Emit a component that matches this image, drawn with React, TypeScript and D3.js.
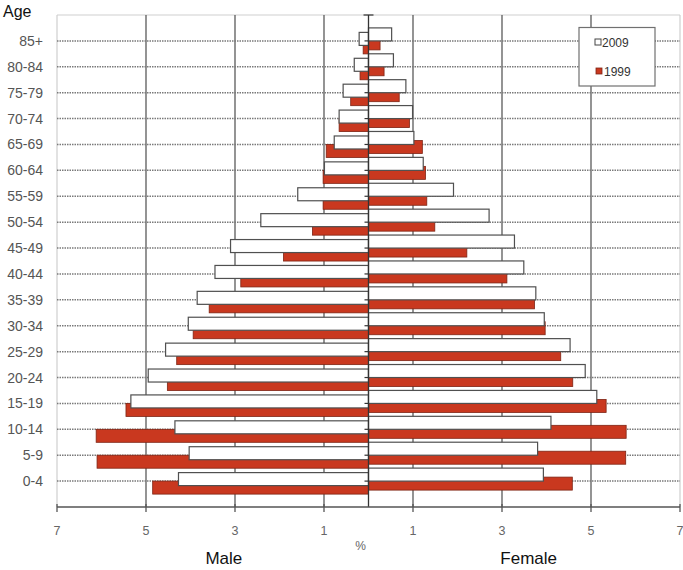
import React from "react";
import * as d3 from "d3";

const categories = ["85+","80-84","75-79","70-74","65-69","60-64","55-59","50-54","45-49","40-44","35-39","30-34","25-29","20-24","15-19","10-14","5-9","0-4"];
const male2009 = [0.21,0.32,0.57,0.66,0.77,0.99,1.59,2.42,3.10,3.45,3.85,4.05,4.56,4.95,5.34,4.35,4.03,4.27];
const male1999 = [0.12,0.19,0.40,0.66,0.95,1.02,1.02,1.26,1.91,2.87,3.58,3.94,4.31,4.52,5.45,6.12,6.10,4.85];
const female2009 = [0.52,0.56,0.84,0.99,1.02,1.23,1.91,2.71,3.28,3.49,3.76,3.95,4.53,4.87,5.13,4.10,3.80,3.93];
const female1999 = [0.26,0.35,0.69,0.92,1.21,1.28,1.31,1.49,2.21,3.11,3.73,3.97,4.32,4.59,5.34,5.79,5.78,4.58];
const xTicks = [-7,-5,-3,-1,1,3,5,7];
const gridTicks = [-5,-3,-1,1,3,5];
const seriesNames = ["2009","1999"];

const W = 683, H = 570;
const left = 57, right = 680, top = 15, bottom = 507;
const RED = "#c9381f";
const RED_STROKE = "#7e2414";

export default function App() {
  const x = d3.scaleLinear().domain([-7, 7]).range([left, right]);
  const y = d3.scalePoint<string>().domain(categories).range([top, bottom]).padding(1);
  const x0 = x(0);
  const bh = 13;

  const bar = (v: number, side: number) => {
    const xv = x(side * v);
    return { x: Math.min(xv, x0), w: Math.abs(xv - x0) };
  };

  return (
    <svg width={W} height={H} style={{ position: "absolute", left: 0, top: 0, background: "#fff" }}
      fontFamily="'Liberation Sans', Arial, sans-serif">
      {/* frame */}
      <line x1={left} x2={right} y1={top} y2={top} stroke="#cfcfcf" strokeWidth={1.2} />
      <line x1={left} x2={left} y1={top} y2={bottom} stroke="#cfcfcf" strokeWidth={1.2} />
      <line x1={right} x2={right} y1={top} y2={bottom} stroke="#cfcfcf" strokeWidth={1.2} />
      {/* vertical grid */}
      {gridTicks.map(t => (
        <line key={"g" + t} x1={x(t)} x2={x(t)} y1={top} y2={bottom} stroke="#5a5a5a" strokeWidth={1.3} />
      ))}
      {/* horizontal dotted lines */}
      {categories.map(c => (
        <line key={"h" + c} x1={left} x2={right} y1={y(c)!} y2={y(c)!} stroke="#7a7a7a" strokeWidth={1.5} strokeDasharray="1.5,1" />
      ))}
      {/* bars: 1999 first, 2009 on top */}
      {categories.map((c, i) => {
        const cy = y(c)!;
        const mr = bar(male1999[i], -1);
        const fr = bar(female1999[i], 1);
        return (
          <g key={"r" + c}>
            <rect x={mr.x} y={cy} width={mr.w} height={bh} fill={RED} stroke={RED_STROKE} strokeWidth={0.8} />
            <rect x={fr.x} y={cy - 4} width={fr.w} height={bh} fill={RED} stroke={RED_STROKE} strokeWidth={0.8} />
          </g>
        );
      })}
      {categories.map((c, i) => {
        const cy = y(c)!;
        const mw = bar(male2009[i], -1);
        const fw = bar(female2009[i], 1);
        return (
          <g key={"w" + c}>
            <rect x={mw.x} y={cy - 8.5} width={mw.w} height={bh} fill="#fff" stroke="#505050" strokeWidth={1.2} />
            <rect x={fw.x} y={cy - 13} width={fw.w} height={bh} fill="#fff" stroke="#505050" strokeWidth={1.2} />
          </g>
        );
      })}
      {/* center axis */}
      <line x1={x0} x2={x0} y1={top} y2={bottom} stroke="#333" strokeWidth={1.3} />
      <line x1={x0 - 5} x2={x0 + 5} y1={top} y2={top} stroke="#333" strokeWidth={1.2} />
      {categories.map(c => (
        <line key={"yt" + c} x1={x0 - 4} x2={x0} y1={y(c)!} y2={y(c)!} stroke="#333" strokeWidth={1.2} />
      ))}
      {/* bottom axis */}
      <line x1={left} x2={right} y1={bottom} y2={bottom} stroke="#555" strokeWidth={1.3} />
      {xTicks.map(t => (
        <line key={"xt" + t} x1={x(t)} x2={x(t)} y1={bottom - 3} y2={bottom + 5} stroke="#555" strokeWidth={1.3} />
      ))}
      {xTicks.map(t => (
        <text key={"xl" + t} x={x(t)} y={535} textAnchor="middle" fontSize={12.5} fill="#666">{Math.abs(t)}</text>
      ))}
      <text x={x0 - 8} y={550} textAnchor="middle" fontSize={12} fill="#666">%</text>
      <text x={x(-3.25)} y={564} textAnchor="middle" fontSize={17} fill="#111">Male</text>
      <text x={x(3.6)} y={564} textAnchor="middle" fontSize={17} fill="#111">Female</text>
      {/* category labels */}
      {categories.map(c => (
        <text key={"cl" + c} x={43} y={y(c)! + 5} textAnchor="end" fontSize={14} fill="#555">{c}</text>
      ))}
      <text x={3} y={17} fontSize={16} fill="#111">Age</text>
      {/* legend */}
      <rect x={579} y={27.5} width={76} height={58.5} fill="#fff" stroke="#707070" strokeWidth={1.2} />
      <rect x={595} y={39} width={6} height={6} fill="#fff" stroke="#444" strokeWidth={1} />
      <text x={602} y={46.5} fontSize={12} fill="#333">{seriesNames[0]}</text>
      <rect x={596} y={68} width={6} height={6} fill={RED} stroke={RED_STROKE} strokeWidth={0.8} />
      <text x={604} y={75.5} fontSize={12} fill="#333">{seriesNames[1]}</text>
    </svg>
  );
}
